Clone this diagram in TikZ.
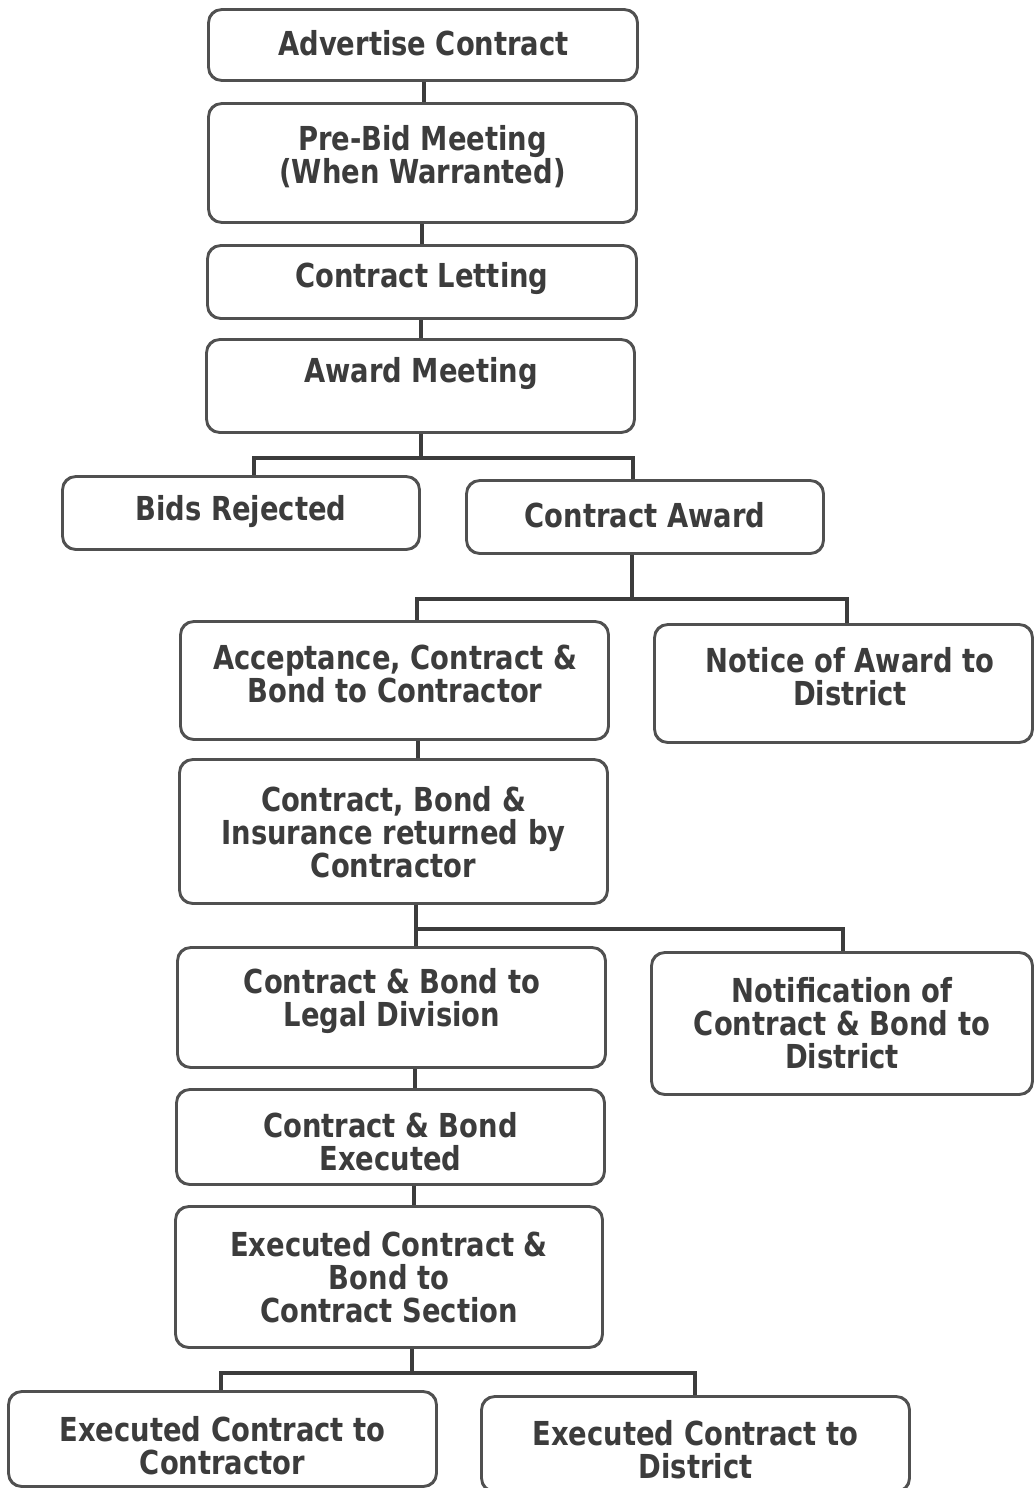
\documentclass[tikz,border=0pt]{standalone}
\usepackage{fontspec}
\setmainfont{DejaVu Sans}[FakeStretch=0.83]
\definecolor{ink}{HTML}{3C3C3C}
\definecolor{edge}{HTML}{505050}
\begin{document}
\begin{tikzpicture}[x=1pt,y=-1pt,
  box/.style={draw=edge,line width=1.8pt,rounded corners=13pt,fill=white,inner sep=0pt},
  txt/.style={text=ink,font=\bfseries\fontsize{33}{33}\selectfont,align=center,inner sep=0pt,yshift=-3pt},
  conn/.style={draw=ink,line width=4pt}]
\useasboundingbox (0,0) rectangle (1034,1488);
\path
  (423,45)      node[box,minimum width=428,minimum height=70]  (b1) {}
  (422.5,163)   node[box,minimum width=427,minimum height=118] (b2) {}
  (422,282)     node[box,minimum width=428,minimum height=72]  (b3) {}
  (420.5,386)   node[box,minimum width=427,minimum height=92]  (b4) {}
  (241,513)     node[box,minimum width=356,minimum height=72]  (b5) {}
  (645,517)     node[box,minimum width=356,minimum height=72]  (b6) {}
  (394.5,680.5) node[box,minimum width=427,minimum height=117] (b7) {}
  (843.5,683.5) node[box,minimum width=377,minimum height=117] (b8) {}
  (393.5,831.5) node[box,minimum width=427,minimum height=143] (b9) {}
  (391.5,1007.5) node[box,minimum width=427,minimum height=119] (b10) {}
  (842,1023.5)  node[box,minimum width=380,minimum height=141] (b11) {}
  (390.5,1137)  node[box,minimum width=427,minimum height=94]  (b12) {}
  (389,1277)    node[box,minimum width=426,minimum height=140] (b13) {}
  (222.5,1439)  node[box,minimum width=427,minimum height=94]  (b14) {}
  (695.5,1444)  node[box,minimum width=427,minimum height=94]  (b15) {};
% connectors
\draw[conn] ([xshift=1]b1.south) -- ([xshift=1.5]b2.north);
\draw[conn] ([xshift=-0.5]b2.south) -- (b3.north);
\draw[conn] ([xshift=-1]b3.south) -- ([xshift=0.5]b4.north);
\draw[conn] (b4.south) -- ++(0,25) coordinate (j4);
\draw[conn] (j4) -| ([xshift=13]b5.north);
\draw[conn] (j4) -| ([xshift=-12]b6.north);
\draw[conn] ([xshift=-13]b6.south) -- ++(0,45) coordinate (j6);
\draw[conn] (j6) -| ([xshift=22.5]b7.north);
\draw[conn] (j6) -| ([xshift=3]b8.north);
\draw[conn] ([xshift=23.5]b7.south) -- ([xshift=24.5]b9.north);
\draw[conn] ([xshift=22.5]b9.south) -- ++(0,25) coordinate (j9);
\draw[conn] (j9) -| ([xshift=24.5]b10.north);
\draw[conn] (j9) -| ([xshift=1]b11.north);
\draw[conn] ([xshift=23.5]b10.south) -- ([xshift=24.5]b12.north);
\draw[conn] ([xshift=23.5]b12.south) -- ([xshift=25]b13.north);
\draw[conn] ([xshift=23]b13.south) -- ++(0,25) coordinate (j13);
\draw[conn] (j13) -| ([xshift=-1.5]b14.north);
\draw[conn] (j13) -| ([xshift=-0.5]b15.north);
% box outlines on top of connector ends
\foreach \b in {b1,b2,b3,b4,b5,b6,b7,b8,b9,b10,b11,b12,b13,b14,b15}
  \draw[draw=edge,line width=1.8pt,rounded corners=13pt] (\b.south west) rectangle (\b.north east);
% texts
\node[txt] (t1)  at (423.5,40)   {Advertise Contract};
\node[txt] (t2)  at (422.5,153.5) {Pre-Bid Meeting\\(When Warranted)};
\node[txt] (t3)  at (422,276)    {Contract Letting};
\node[txt] (t4)  at (421,371)    {Award Meeting};
\node[txt] (t5)  at (241,509)    {Bids Rejected};
\node[txt] (t6)  at (645,512)    {Contract Award};
\node[txt] (t7)  at (395,670.5)  {Acceptance, Contract \&\\Bond to Contractor};
\node[txt] (t8)  at (850,674)    {Notice of Award to\\District};
\node[txt] (t9)  at (393.5,829)  {Contract, Bond \&\\Insurance returned by\\Contractor};
\node[txt] (t10) at (392,998.5)  {Contract \& Bond to\\Legal Division};
\node[txt] (t11) at (842,1020)   {Notification of\\Contract \& Bond to\\District};
\node[txt] (t12) at (390.5,1138.5) {Contract \& Bond\\Executed};
\node[txt] (t13) at (389,1274.5) {Executed Contract \&\\Bond to\\Contract Section};
\node[txt] (t14) at (222.5,1442.5) {Executed Contract to\\Contractor};
\node[txt] (t15) at (695.5,1446.5) {Executed Contract to\\District};
\end{tikzpicture}
\end{document}
